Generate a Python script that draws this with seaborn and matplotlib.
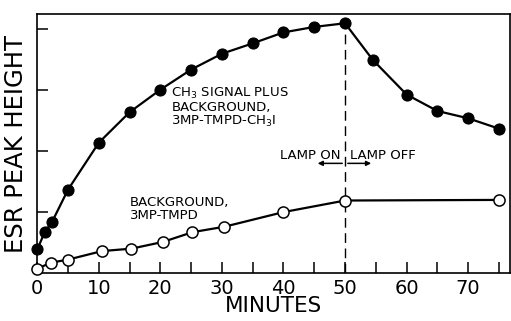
"""ESR peak height vs time, lamp on / lamp off (re-drawn from a scanned figure)."""
import matplotlib

matplotlib.use("Agg")
import matplotlib.pyplot as plt  # noqa: E402
import seaborn as sns  # noqa: E402

sns.set_style("ticks")
plt.rcParams["font.family"] = ["DejaVu Sans"]
plt.rcParams.update({"text.color": "black", "axes.labelcolor": "black",
                     "xtick.color": "black", "ytick.color": "black"})

# CH3 signal plus background (filled circles)
signal_min = [0, 1.25, 2.4, 5, 10, 15, 20, 25, 30, 35, 40, 45, 50,
              54.5, 60, 65, 70, 75]
signal_val = [0.39, 0.68, 0.84, 1.37, 2.14, 2.64, 3.01, 3.34, 3.60, 3.77,
              3.95, 4.04, 4.10, 3.50, 2.93, 2.66, 2.54, 2.37]

# background only (open circles)
bg_min = [0, 2.2, 5, 10.5, 15.3, 20.4, 25.2, 30.4, 40, 50, 75]
bg_val = [0.07, 0.17, 0.22, 0.36, 0.40, 0.51, 0.67, 0.76, 1.00, 1.19, 1.20]

lamp_off_at = 50
x_major = [0, 10, 20, 30, 40, 50, 60, 70]
x_minor = [5, 15, 25, 35, 45, 55, 65, 75]
y_ticks = [1, 2, 3, 4]

fig = plt.figure(figsize=(5.11, 3.21), dpi=100)
ax = fig.add_axes([0.073, 0.1495, 0.925, 0.8065])

sns.lineplot(x=signal_min, y=signal_val, ax=ax, color="black", lw=1.6,
             marker="o", markersize=8, markerfacecolor="black",
             markeredgecolor="black", zorder=3, clip_on=False)
sns.lineplot(x=bg_min, y=bg_val, ax=ax, color="black", lw=1.6,
             marker="o", markersize=8, markerfacecolor="white",
             markeredgecolor="black", markeredgewidth=1.1, zorder=3,
             clip_on=False)

ax.axvline(lamp_off_at, color="black", lw=1.0, ls=(0, (7, 4)), zorder=1)

ax.set_xlim(0, 76.8)
ax.set_ylim(0, 4.25)
ax.set_xticks(x_major)
ax.set_xticks(x_minor, minor=True)
ax.set_yticks(y_ticks)
ax.set_yticklabels([])
ax.tick_params(axis="both", which="both", direction="in", color="black",
               width=1.1)
ax.tick_params(axis="x", which="both", length=8, labelsize=14, pad=4)
ax.tick_params(axis="y", length=8)
for s in ax.spines.values():
    s.set_linewidth(1.2)
    s.set_color("black")

ax.set_xlabel("MINUTES", fontsize=15.5, labelpad=-1)
ax.set_ylabel("ESR PEAK HEIGHT", fontsize=17.5, labelpad=3)

ax.text(21.8, 3.07, "CH$_3$ SIGNAL PLUS\nBACKGROUND,\n3MP-TMPD-CH$_3$I",
        fontsize=9.5, va="top", ha="left", linespacing=1.0)
ax.text(15.1, 1.27, "BACKGROUND,\n3MP-TMPD", fontsize=9.5, va="top",
        ha="left", linespacing=1.0)
ax.text(49.3, 1.93, "LAMP ON", fontsize=9.5, va="center", ha="right")
ax.text(50.8, 1.93, "LAMP OFF", fontsize=9.5, va="center", ha="left")
ax.annotate("", xy=(45.1, 1.80), xytext=(50, 1.80),
            arrowprops=dict(arrowstyle="-|>", color="black", lw=1.1,
                            mutation_scale=7))
ax.annotate("", xy=(54.7, 1.80), xytext=(50, 1.80),
            arrowprops=dict(arrowstyle="-|>", color="black", lw=1.1,
                            mutation_scale=7))

fig.savefig("out.png", dpi=100, facecolor="white")
